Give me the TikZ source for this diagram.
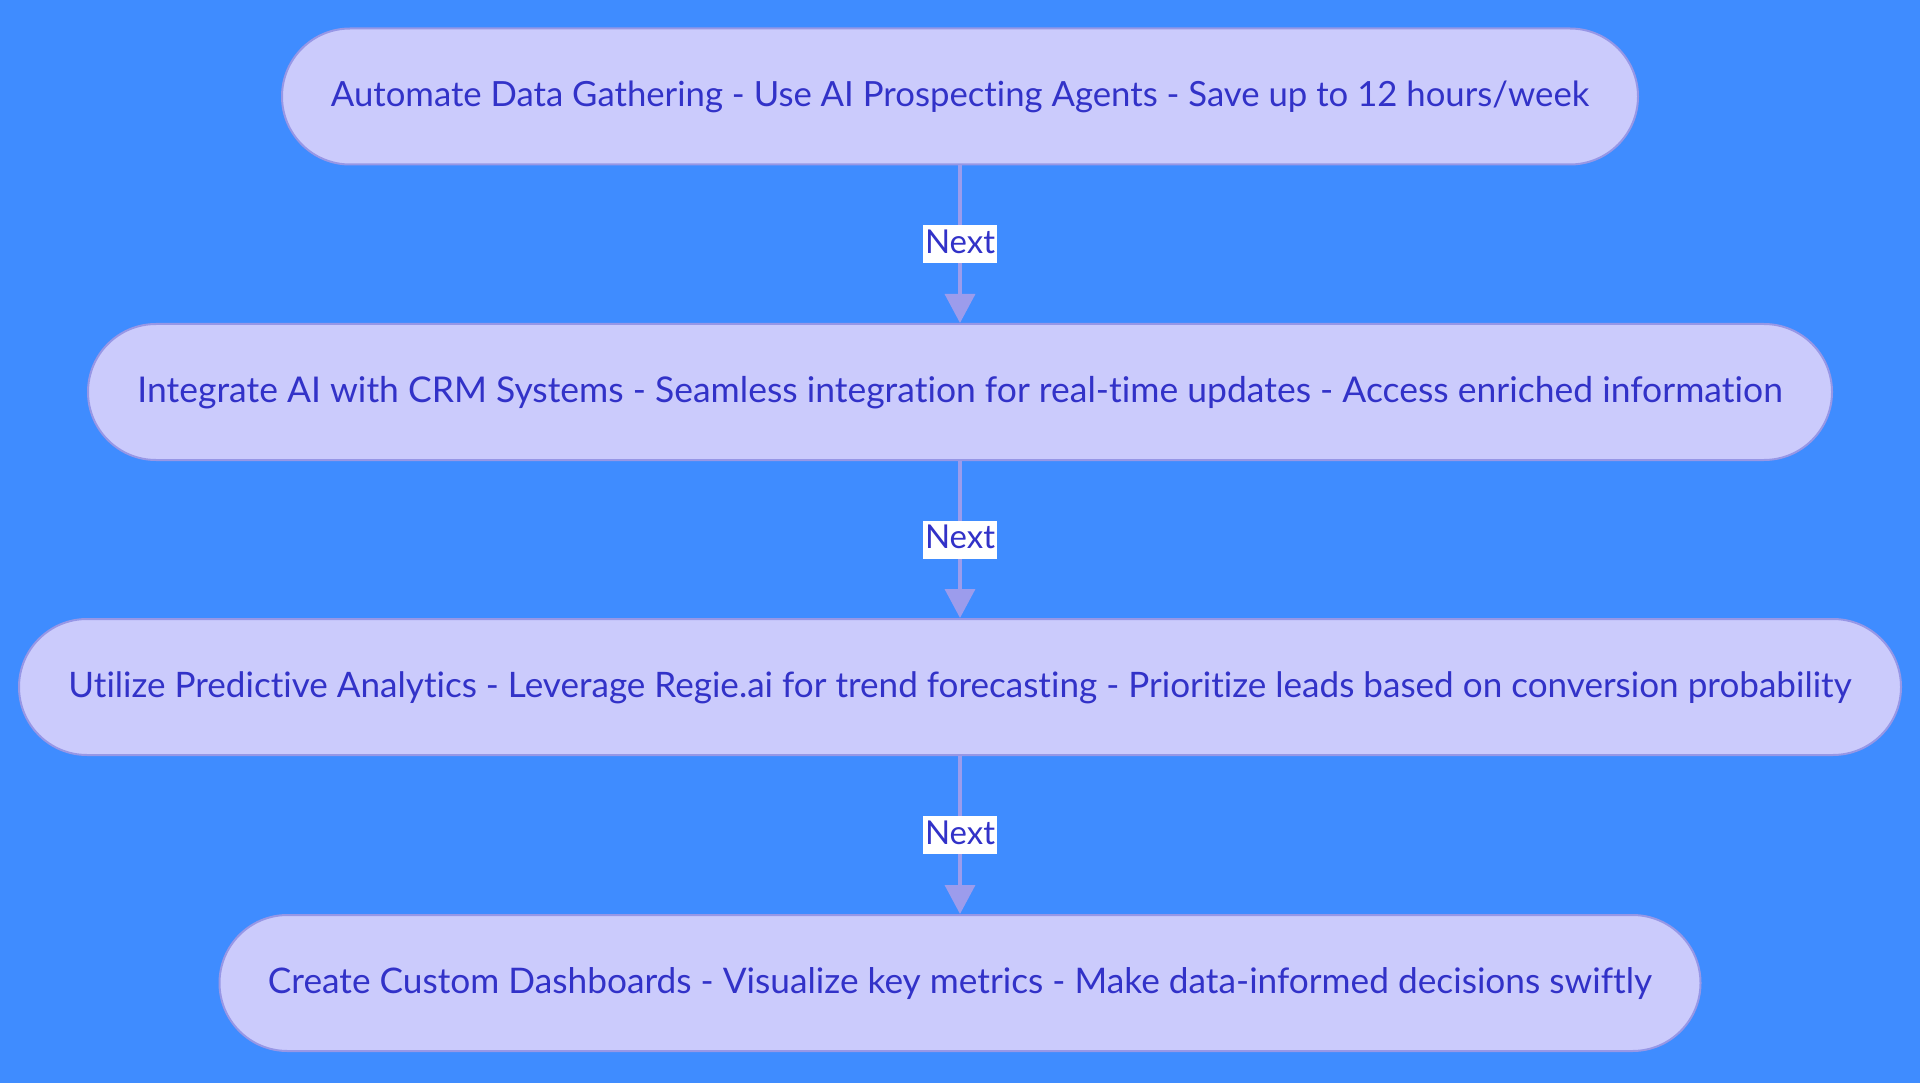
\documentclass[tikz,border=0pt]{standalone}
\usepackage{fontspec}
\setmainfont{Lato}[Ligatures={CommonOff,RareOff}]
\usetikzlibrary{arrows.meta}
\definecolor{bg}{HTML}{3F8CFF}
\definecolor{nodefill}{HTML}{CBCBFC}
\definecolor{nodeline}{HTML}{9797E6}
\definecolor{txt}{HTML}{3232C8}
\definecolor{edgecol}{HTML}{9C9CEC}
\begin{document}
\begin{tikzpicture}[x=1pt,y=-1pt,
  stepbox/.style={draw=nodeline, line width=2pt, fill=nodefill, rounded corners=68pt,
    minimum height=136pt, inner sep=0pt, text height=25pt, text depth=5pt, text=txt,
    font=\fontsize{30}{36}\selectfont},
  flow/.style={draw=edgecol, line width=3.5pt, -{Triangle[width=30pt,length=29pt]}},
  lbl/.style={fill=white, inner sep=0pt, minimum width=74pt, text height=28pt, text depth=10pt,
    text=txt, font=\fontsize{30}{36}\selectfont}]
\fill[bg] (0,0) rectangle (1920,1083);
\useasboundingbox (0,0) rectangle (1920,1083);
\node[stepbox, minimum width=1356pt] (n1) at (960,96.5)
  {\resizebox{1258pt}{!}{Automate Data Gathering - Use AI Prospecting Agents - Save up to 12 hours/week}};
\node[stepbox, minimum width=1744pt] (n2) at (960,392)
  {\resizebox{1645pt}{!}{Integrate AI with CRM Systems - Seamless integration for real-time updates - Access enriched information}};
\node[stepbox, minimum width=1882pt] (n3) at (960,687)
  {\resizebox{1783pt}{!}{Utilize Predictive Analytics - Leverage Regie.ai for trend forecasting - Prioritize leads based on conversion probability}};
\node[stepbox, minimum width=1481pt] (n4) at (960,983)
  {\resizebox{1384pt}{!}{Create Custom Dashboards - Visualize key metrics - Make data-informed decisions swiftly}};
\draw[flow] (n1) -- (n2) node[lbl, midway] {\resizebox{70pt}{!}{Next}};
\draw[flow] (n2) -- (n3) node[lbl, midway] {\resizebox{70pt}{!}{Next}};
\draw[flow] (n3) -- (n4) node[lbl, midway] {\resizebox{70pt}{!}{Next}};
\end{tikzpicture}
\end{document}
